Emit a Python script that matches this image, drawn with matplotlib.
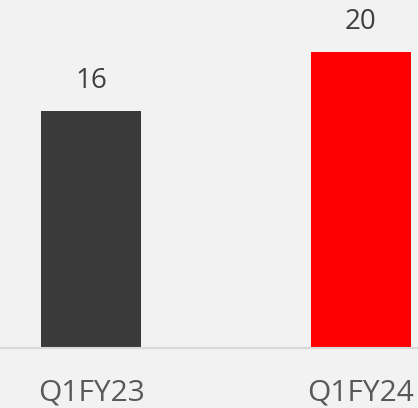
import matplotlib
matplotlib.use("Agg")
import matplotlib.pyplot as plt

categories = ["Q1FY23", "Q1FY24"]
values = [16, 20]
colors = ["#3a3a3a", "#ff0000"]

bg = "#f2f2f2"
fig = plt.figure(figsize=(4.18, 4.08), dpi=100, facecolor=bg)
ax = fig.add_axes([0, 60.5 / 408, 1, 347.5 / 408])
ax.set_facecolor(bg)

x = range(len(categories))
ax.bar(x, values, width=100 / 270, color=colors)

for xi, v in zip(x, values):
    ax.text(xi, v + 2.0, str(v), ha="center", va="center",
            fontsize=20, color="#404040", family="Open Sans")

ax.set_xlim(-91 / 270, 1 + 57 / 270)
ax.set_ylim(0, 347.5 / 14.8)
ax.set_xticks(list(x))
ax.set_xticklabels(categories, fontsize=21.5, color="#595959", family="Open Sans")
ax.tick_params(axis="x", length=0, pad=22)
ax.set_yticks([])

for s in ["top", "left", "right"]:
    ax.spines[s].set_visible(False)
ax.spines["bottom"].set_color("#d9d9d9")
ax.spines["bottom"].set_linewidth(1.5)

fig.savefig("out.png", dpi=100, facecolor=bg)
